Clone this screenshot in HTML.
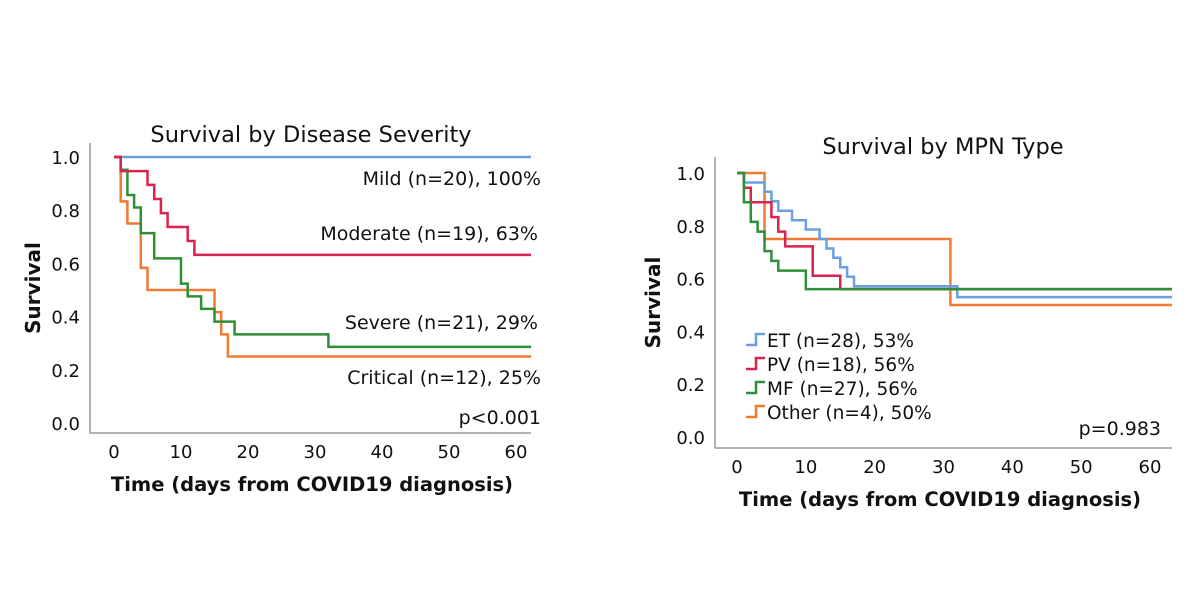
<!DOCTYPE html>
<html><head><meta charset="utf-8"><style>
html,body{margin:0;padding:0;background:#fff;}
svg{display:block;font-family:"DejaVu Sans","Liberation Sans",sans-serif;}
</style></head><body>
<svg id="s" width="1200" height="603" viewBox="0 0 1200 603"></svg>
<script>
// Left chart data (time, survival after step)
const sevCategories = ['Mild','Moderate','Severe','Critical'];
const sevLabels = ['Mild (n=20), 100%','Moderate (n=19), 63%','Severe (n=21), 29%','Critical (n=12), 25%'];
const mildT=[0], mildS=[1.0];
const modT=[0,1,5,6,7,8,11,12], modS=[1.0,0.947,0.895,0.842,0.789,0.737,0.684,0.632];
const sevT=[0,1,2,3,4,6,10,11,13,15,18,32], sevS=[1.0,0.952,0.857,0.81,0.714,0.619,0.524,0.476,0.429,0.381,0.333,0.286];
const critT=[0,1,2,4,5,15,16,17], critS=[1.0,0.833,0.75,0.583,0.5,0.417,0.333,0.25];
// Right chart data
const mpnLabels=['ET (n=28), 53%','PV (n=18), 56%','MF (n=27), 56%','Other (n=4), 50%'];
const etT=[0,1,4,5,6,8,10,12,13,14,15,16,17,32], etS=[1.0,0.964,0.929,0.893,0.857,0.821,0.786,0.75,0.714,0.679,0.643,0.607,0.571,0.53];
const pvT=[0,1,2,5,6,7,11,15], pvS=[1.0,0.944,0.889,0.833,0.778,0.722,0.611,0.56];
const mfT=[0,1,2,3,4,5,6,10], mfS=[1.0,0.889,0.815,0.778,0.704,0.667,0.63,0.56];
const othT=[0,4,31], othS=[1.0,0.75,0.5];
const xTicks=[0,10,20,30,40,50,60];
const yTicks=[0.0,0.2,0.4,0.6,0.8,1.0];

const C={blue:'#6a9fe0',red:'#d9244f',green:'#2f8f36',orange:'#f07a30'};
const svg=document.getElementById('s');
const NS='http://www.w3.org/2000/svg';
function mk(tag,attrs,parent){const e=document.createElementNS(NS,tag);for(const k in attrs)e.setAttribute(k,attrs[k]);(parent||svg).appendChild(e);return e;}
function txt(s,x,y,size,anchor,weight,name,parent){const t=mk('text',{x:x,y:y,'font-size':size,'text-anchor':anchor||'start','font-weight':weight||'normal',fill:'#111'},parent);t.textContent=s;return t;}

function chart(cfg){
  const g=mk('g',{});
  
  
  const xs=v=>cfg.x0+v*(cfg.x60-cfg.x0)/60;
  const ys=v=>cfg.y0+v*(cfg.y1-cfg.y0);
  const ax=mk('path',{d:`M${cfg.axX},${cfg.top}V${cfg.axY}H${cfg.right}`,stroke:'#999',fill:'none','stroke-width':1.5},g);
  
  
  xTicks.forEach(v=>txt(String(v),xs(v),cfg.axY+25,18,'middle','normal','x-tick-label',g));
  yTicks.forEach(v=>txt(v.toFixed(1),cfg.axX-10,ys(v)+7,18,'end','normal','y-tick-label',g));
  txt(cfg.title,cfg.titleX,cfg.titleY,22.5,'middle','normal','chart-title',g);
  txt('Time (days from COVID19 diagnosis)',cfg.xtX,cfg.axY+58,19.5,'middle','bold','x-axis-title',g);
  const yt=txt('Survival',0,0,20,'middle','bold','y-axis-title',g);
  yt.setAttribute('transform',`translate(${cfg.ytX},${(cfg.top+cfg.axY)/2}) rotate(-90)`);
  cfg.series.forEach(s=>{
    let d=`M${xs(s.t[0])},${ys(s.s[0])}`;
    for(let i=1;i<s.t.length;i++){d+=`H${xs(s.t[i])}V${ys(s.s[i])}`;}
    d+=`H${cfg.right}`;
    const p=mk('path',{d:d,stroke:s.c,fill:'none','stroke-width':2.5},g);
    
    
  });
  return {xs,ys,g};
}

const L=chart({name:'severity-chart',x0:114,x60:516,y0:423,y1:157,axX:90,axY:433,top:143,right:531,titleX:311,titleY:142,xtX:312,ytX:40,title:'Survival by Disease Severity',
  series:[{t:mildT,s:mildS,c:C.blue,name:'mild-curve'},{t:critT,s:critS,c:C.orange,name:'critical-curve'},{t:sevT,s:sevS,c:C.green,name:'severe-curve'},{t:modT,s:modS,c:C.red,name:'moderate-curve'}]});
txt(sevLabels[0],541,185,19,'end','normal','mild-label',L.g);
txt(sevLabels[1],538,240,19,'end','normal','moderate-label',L.g);
txt(sevLabels[2],538,329,19,'end','normal','severe-label',L.g);
txt(sevLabels[3],541,384,19,'end','normal','critical-label',L.g);
txt('p<0.001',541,424,19,'end','normal','p-value',L.g);

const R=chart({name:'mpn-chart',x0:737,x60:1150,y0:437,y1:173,axX:715,axY:448,top:157,right:1172,titleX:943,titleY:154,xtX:940,ytX:660,title:'Survival by MPN Type',
  series:[{t:othT,s:othS,c:C.orange,name:'other-curve'},{t:etT,s:etS,c:C.blue,name:'et-curve'},{t:pvT,s:pvS,c:C.red,name:'pv-curve'},{t:mfT,s:mfS,c:C.green,name:'mf-curve'}]});
const legC=[C.blue,C.red,C.green,C.orange];
mpnLabels.forEach((lab,i)=>{
  const y=347+i*24;
  const p=mk('path',{d:`M746,${y-2}H756V${y-13}H765`,stroke:legC[i],fill:'none','stroke-width':2.5},R.g);
  
  
  txt(lab,767,y,18.5,'start','normal','legend-entry',R.g);
});
txt('p=0.983',1161,435,19,'end','normal','p-value',R.g);
</script>
</body></html>
